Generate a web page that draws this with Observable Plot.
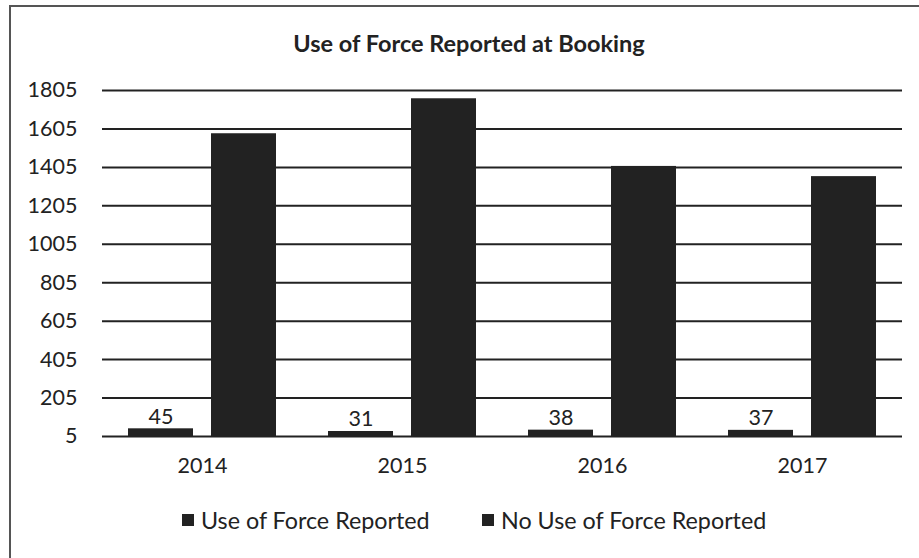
<!DOCTYPE html>
<html>
<head>
<meta charset="utf-8">
<script src="https://cdn.jsdelivr.net/npm/d3@7"></script>
<script src="https://cdn.jsdelivr.net/npm/@observablehq/plot@0.6"></script>
<style>
  html, body { margin: 0; padding: 0; background: #fff; }
  #wrap { position: relative; width: 919px; height: 558px; overflow: hidden; font-family: Lato, "Open Sans", sans-serif; color: #222; }
  #frame { position: absolute; left: 9px; top: 5px; width: 940px; height: 600px; border-left: 2px solid #555; border-top: 2px solid #555; box-sizing: border-box; }
  #title { position: absolute; left: 0; width: 938px; top: 29px; text-align: center; font-weight: bold; font-size: 23.5px; }
  #chart { position: absolute; left: 0; top: 70px; }
  #legend { position: absolute; left: 0; top: 506px; width: 919px; font-size: 23.3px; }
  .item { position: absolute; top: 0; display: flex; align-items: center; }
  .sw { width: 12px; height: 12px; background: #222; margin-right: 7px; }
</style>
</head>
<body>
<div id="wrap">
  <div id="frame"></div>
  <div id="title">Use of Force Reported at Booking</div>
  <div id="chart"></div>
  <div id="legend"></div>
</div>
<script>
const years = ["2014", "2015", "2016", "2017"];
const seriesNames = ["Use of Force Reported", "No Use of Force Reported"];
const useOfForce = [45, 31, 38, 37];
const noUseOfForce = [1580, 1762, 1410, 1357];
const yTicks = [5, 205, 405, 605, 805, 1005, 1205, 1405, 1605, 1805];
const baseline = 5;

const data = [];
years.forEach((yr, i) => {
  data.push({year: yr, series: seriesNames[0], value: useOfForce[i]});
  data.push({year: yr, series: seriesNames[1], value: noUseOfForce[i]});
});
const labeled = data.filter(d => d.series === seriesNames[0]);

const chart = Plot.plot({
  width: 919,
  height: 420,
  marginTop: 20,
  marginBottom: 54,
  marginLeft: 102,
  marginRight: 17,
  style: {fontFamily: "Lato, 'Open Sans', sans-serif", fontSize: "21.5px", color: "#222", background: "transparent"},
  fx: {domain: years, padding: 0, label: null},
  x: {domain: seriesNames, paddingInner: 0.214, paddingOuter: 0.298, axis: null},
  y: {domain: [baseline, 1805], ticks: yTicks, label: null},
  marks: [
    Plot.ruleY(yTicks, {stroke: "#222", strokeWidth: 2}),
    Plot.barY(data, {fx: "year", x: "series", y1: baseline, y2: "value", fill: "#222"}),
    Plot.text(labeled, {fx: "year", x: "series", y: "value", text: d => String(d.value), dy: -12, fontSize: 21.5, fill: "#222"}),
    Plot.axisY({ticks: yTicks, tickSize: 0, tickPadding: 25, fontSize: 21.5, label: null, tickFormat: d => String(d)}),
    Plot.axisFx({anchor: "bottom", tickSize: 0, tickPadding: 21, fontSize: 21.5, label: null})
  ]
});
document.getElementById("chart").appendChild(chart);

const legend = document.getElementById("legend");
const legendX = [182, 482];
seriesNames.forEach((name, i) => {
  const it = document.createElement("div");
  it.className = "item";
  it.style.left = legendX[i] + "px";
  it.innerHTML = '<span class="sw"></span><span>' + name + '</span>';
  legend.appendChild(it);
});
</script>
</body>
</html>
